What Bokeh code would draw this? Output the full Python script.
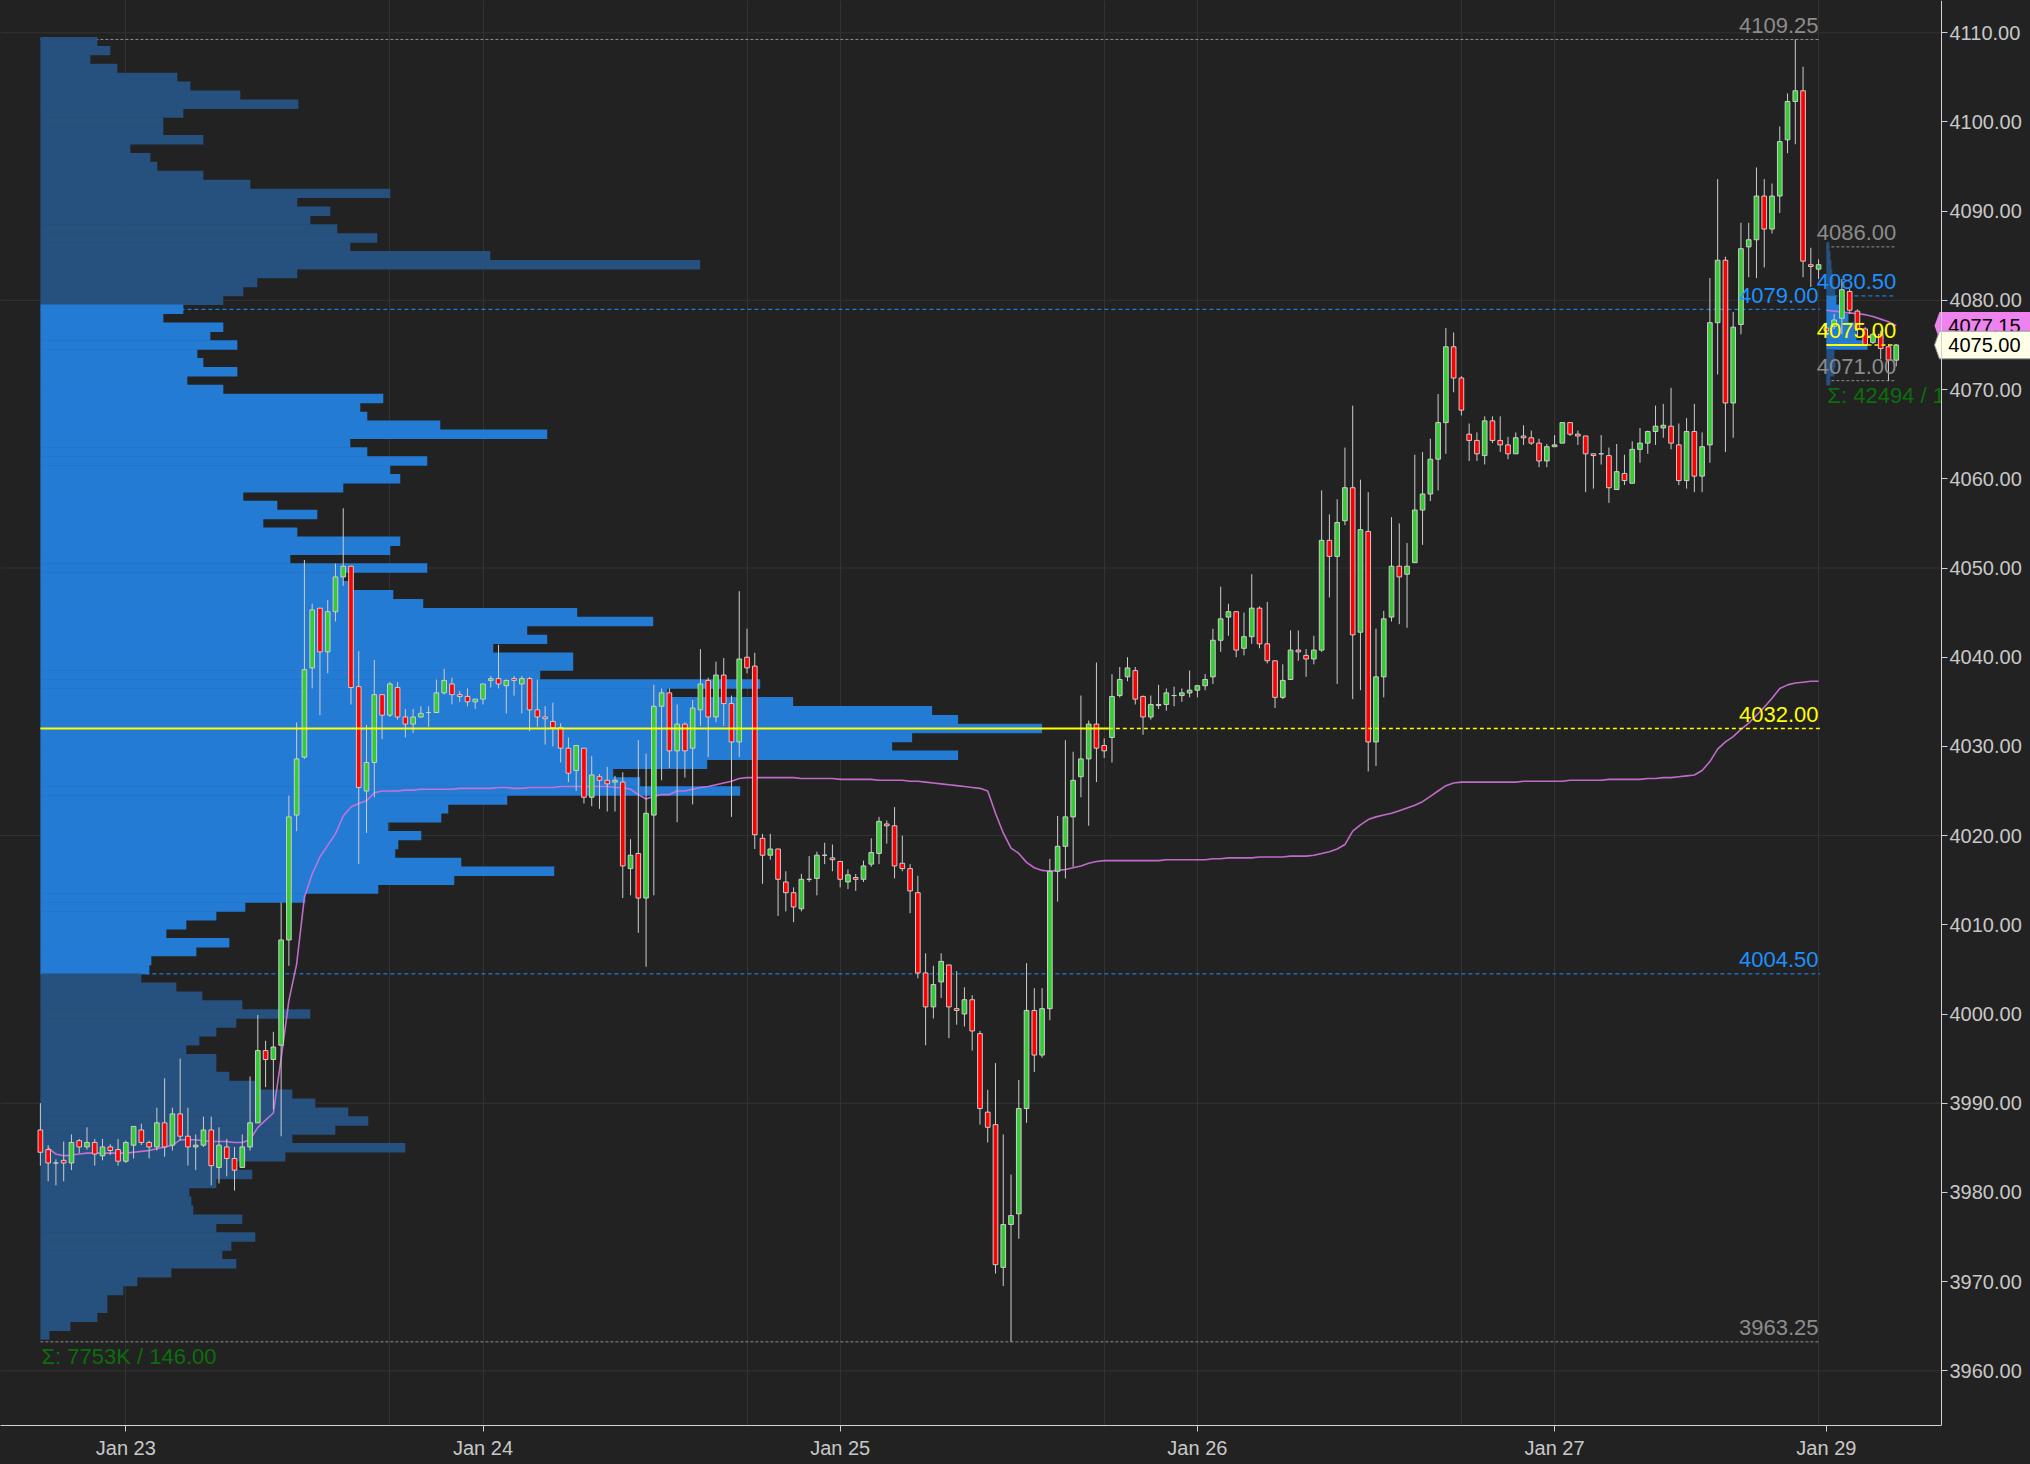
from bokeh.plotting import figure
from bokeh.models import FixedTicker, NumeralTickFormatter, Range1d
from bokeh.core.properties import value
from bokeh.embed import file_html
from bokeh.resources import INLINE

# ---------------- data (30-minute bars, index 0 = first bar of Jan 22 evening session) ----------------
opens = [
    3987.0, 3984.8, 3983.3, 3983.6, 3983.3, 3985.8, 3985.1, 3985.6, 3984.1, 3985.1,
    3984.8, 3983.5, 3985.3, 3987.0, 3985.6, 3985.1, 3987.8, 3985.3, 3988.8, 3986.3,
    3985.1, 3985.3, 3987.0, 3982.8, 3985.1, 3983.8, 3982.8, 3985.1, 3987.8, 3995.9,
    3994.9, 3996.5, 4008.3, 4022.3, 4028.8, 4038.8, 4045.5, 4040.6, 4045.1, 4049.0,
    4050.2, 4036.7, 4025.0, 4028.2, 4035.8, 4033.5, 4036.6, 4033.3, 4032.5, 4033.3,
    4033.8, 4033.8, 4036.0, 4037.0, 4035.8, 4035.6, 4035.0, 4035.3, 4037.4, 4037.6,
    4036.8, 4037.6, 4037.0, 4037.6, 4034.1, 4033.3, 4032.8, 4032.1, 4029.8, 4027.3,
    4029.8, 4024.3, 4026.6, 4026.2, 4026.0, 4026.0, 4016.3, 4018.0, 4013.0, 4022.3,
    4034.5, 4036.0, 4029.5, 4032.5, 4029.8, 4034.1, 4037.4, 4033.3, 4038.0, 4034.8,
    4030.5, 4040.0, 4039.0, 4019.7, 4017.8, 4018.5, 4014.8, 4013.6, 4011.8, 4015.1,
    4015.2, 4017.8, 4017.5, 4017.1, 4014.8, 4015.3, 4015.1, 4016.8, 4018.0, 4021.3,
    4021.1, 4016.9, 4016.3, 4013.6, 4004.6, 4000.8, 4003.6, 4005.5, 4000.6, 4000.0,
    4001.6, 3997.8, 3989.0, 3987.6, 3971.6, 3976.4, 3977.6, 3989.4, 4000.4, 3995.4,
    4000.6, 4016.0, 4018.8, 4022.1, 4026.6, 4028.6, 4032.5, 4030.1, 4031.0, 4035.7,
    4037.8, 4038.5, 4035.6, 4033.3, 4034.6, 4034.7, 4035.7, 4035.7, 4036.0, 4036.3,
    4036.8, 4037.8, 4041.9, 4044.5, 4045.1, 4041.0, 4042.3, 4045.5, 4041.5, 4039.6,
    4035.5, 4037.5, 4040.8, 4040.2, 4039.8, 4040.8, 4053.1, 4051.3, 4055.3, 4059.0,
    4042.8, 4054.1, 4030.5, 4037.8, 4044.5, 4050.2, 4049.3, 4050.6, 4056.5, 4058.3,
    4062.2, 4066.3, 4074.8, 4071.3, 4065.0, 4064.3, 4062.6, 4066.5, 4064.3, 4063.8,
    4062.8, 4064.8, 4064.6, 4064.0, 4062.0, 4063.6, 4064.0, 4066.3, 4065.0, 4064.8,
    4062.8, 4062.8, 4062.6, 4058.8, 4060.6, 4059.5, 4063.3, 4064.0, 4065.3, 4065.7,
    4065.9, 4063.8, 4059.8, 4065.3, 4060.3, 4063.8, 4077.5, 4084.5, 4068.5, 4077.3,
    4086.0, 4086.8, 4091.7, 4088.0, 4091.7, 4098.0, 4102.3, 4103.5, 4084.0, 4083.5,
    4076.9, 4077.1, 4078.0, 4081.0, 4078.8, 4076.8, 4075.3, 4076.2, 4074.8, 4073.3,
]
highs = [
    3990.0, 3985.3, 3983.7, 3985.7, 3986.5, 3986.0, 3987.3, 3986.0, 3986.0, 3985.4,
    3986.0, 3985.8, 3987.4, 3987.7, 3985.8, 3989.5, 3992.8, 3989.5, 3995.0, 3989.5,
    3986.5, 3988.5, 3988.5, 3987.3, 3986.0, 3985.1, 3986.5, 3993.0, 3999.9, 3997.0,
    3998.0, 4012.5, 4024.5, 4032.7, 4050.9, 4046.0, 4045.5, 4046.4, 4050.5, 4056.7,
    4050.2, 4040.7, 4032.4, 4039.7, 4035.8, 4037.2, 4037.2, 4034.2, 4034.2, 4034.5,
    4034.5, 4037.5, 4038.7, 4037.7, 4036.2, 4036.5, 4035.3, 4037.0, 4037.9, 4041.4,
    4037.5, 4037.9, 4037.9, 4037.8, 4037.5, 4034.5, 4034.9, 4032.6, 4031.0, 4030.1,
    4029.8, 4028.9, 4026.9, 4027.7, 4026.7, 4027.1, 4019.6, 4030.7, 4029.2, 4036.9,
    4036.5, 4036.5, 4034.7, 4032.7, 4035.2, 4040.9, 4037.7, 4039.5, 4039.9, 4035.7,
    4047.4, 4043.2, 4040.5, 4020.2, 4020.2, 4018.5, 4016.0, 4014.2, 4015.7, 4017.7,
    4018.2, 4019.2, 4019.0, 4017.1, 4016.2, 4015.7, 4017.2, 4019.7, 4022.1, 4021.7,
    4023.2, 4020.0, 4016.8, 4015.5, 4006.8, 4005.4, 4006.8, 4005.5, 4004.8, 4003.0,
    4002.1, 3998.1, 3991.5, 3994.5, 3986.5, 3982.0, 3992.6, 4005.7, 4002.9, 4002.9,
    4017.4, 4022.2, 4030.7, 4029.4, 4035.7, 4032.9, 4039.4, 4030.9, 4038.1, 4038.9,
    4040.0, 4038.9, 4035.7, 4035.7, 4036.9, 4036.5, 4036.7, 4036.5, 4038.5, 4036.9,
    4038.1, 4043.2, 4047.9, 4046.0, 4045.1, 4045.0, 4049.3, 4045.7, 4046.2, 4039.6,
    4039.2, 4043.0, 4043.0, 4040.9, 4042.4, 4058.7, 4056.0, 4057.7, 4063.5, 4068.2,
    4059.9, 4058.5, 4043.2, 4045.2, 4055.7, 4055.0, 4052.8, 4062.7, 4063.0, 4064.5,
    4069.5, 4076.9, 4076.4, 4071.5, 4066.2, 4065.2, 4067.0, 4067.0, 4067.0, 4064.7,
    4065.2, 4066.0, 4065.4, 4064.5, 4063.9, 4064.9, 4066.3, 4066.3, 4065.4, 4064.8,
    4062.8, 4064.9, 4063.5, 4063.9, 4062.7, 4064.2, 4065.7, 4065.4, 4068.2, 4068.4,
    4070.2, 4066.2, 4066.8, 4068.4, 4065.2, 4082.5, 4093.6, 4084.9, 4078.7, 4088.7,
    4088.7, 4094.9, 4093.6, 4093.1, 4099.5, 4103.2, 4109.25, 4106.2, 4085.9, 4084.6,
    4077.5, 4078.5, 4082.4, 4081.3, 4079.0, 4077.0, 4076.4, 4076.6, 4075.1, 4075.1,
]
lows = [
    3983.0, 3981.25, 3980.8, 3981.25, 3982.5, 3984.4, 3984.8, 3983.0, 3983.6, 3984.2,
    3983.0, 3983.3, 3983.8, 3985.3, 3983.8, 3984.7, 3984.0, 3984.7, 3985.8, 3983.0,
    3982.5, 3985.1, 3980.8, 3981.0, 3981.8, 3980.2, 3982.8, 3984.7, 3987.8, 3991.8,
    3989.3, 3986.3, 4005.4, 4020.5, 4028.6, 4036.5, 4033.5, 4038.2, 4044.0, 4048.0,
    4034.7, 4016.8, 4020.3, 4024.3, 4030.8, 4033.3, 4033.0, 4031.0, 4031.5, 4033.2,
    4032.2, 4033.8, 4035.8, 4034.7, 4035.0, 4034.5, 4034.2, 4034.7, 4036.6, 4036.5,
    4033.7, 4035.7, 4033.7, 4031.7, 4032.2, 4030.2, 4030.0, 4028.2, 4026.0, 4025.0,
    4023.6, 4023.3, 4023.0, 4022.7, 4022.7, 4013.0, 4013.3, 4009.1, 4005.3, 4013.3,
    4026.2, 4027.6, 4021.5, 4026.5, 4023.5, 4032.3, 4028.8, 4032.7, 4032.3, 4022.1,
    4028.8, 4038.2, 4018.5, 4014.6, 4017.3, 4011.0, 4011.5, 4010.3, 4011.5, 4014.8,
    4013.3, 4016.8, 4016.0, 4014.2, 4014.0, 4013.8, 4014.8, 4016.5, 4016.8, 4019.1,
    4015.2, 4016.0, 4011.3, 4004.0, 3996.5, 3999.5, 4001.8, 3997.3, 3998.8, 3998.6,
    3995.9, 3987.6, 3985.6, 3970.9, 3969.5, 3963.25, 3974.8, 3987.8, 3993.5, 3995.1,
    3999.3, 4012.6, 4015.2, 4016.5, 4024.3, 4021.1, 4026.0, 4028.7, 4028.2, 4035.5,
    4037.3, 4034.7, 4031.3, 4033.0, 4034.2, 4034.0, 4034.5, 4035.0, 4035.5, 4035.5,
    4036.3, 4037.0, 4040.6, 4042.4, 4040.0, 4040.2, 4041.5, 4041.0, 4039.3, 4034.3,
    4035.3, 4037.5, 4039.6, 4037.8, 4039.2, 4040.6, 4046.7, 4037.0, 4054.8, 4035.3,
    4036.3, 4027.2, 4027.8, 4035.5, 4044.0, 4043.7, 4043.3, 4050.6, 4052.6, 4057.5,
    4058.7, 4062.8, 4069.7, 4067.1, 4062.0, 4062.0, 4061.6, 4064.0, 4063.0, 4062.2,
    4062.8, 4063.8, 4063.8, 4061.3, 4061.3, 4063.6, 4064.0, 4064.8, 4063.8, 4058.5,
    4058.9, 4061.6, 4057.3, 4058.8, 4059.3, 4059.5, 4061.8, 4062.8, 4063.8, 4064.6,
    4063.3, 4059.3, 4058.9, 4058.5, 4058.5, 4061.8, 4071.7, 4063.0, 4064.6, 4076.2,
    4082.6, 4082.5, 4083.7, 4087.5, 4089.8, 4096.5, 4097.5, 4082.6, 4081.5, 4082.4,
    4076.3, 4076.8, 4076.2, 4078.5, 4075.9, 4075.0, 4075.1, 4073.4, 4071.0, 4072.6,
]
closes = [
    3984.5, 3983.3, 3983.3, 3983.3, 3985.6, 3985.1, 3985.6, 3984.3, 3985.1, 3984.7,
    3983.5, 3985.6, 3987.4, 3985.6, 3985.1, 3987.8, 3985.1, 3988.8, 3986.3, 3985.1,
    3985.3, 3987.0, 3983.0, 3985.3, 3983.8, 3982.5, 3985.1, 3987.8, 3995.9, 3994.9,
    3996.3, 4008.3, 4022.1, 4028.6, 4038.6, 4045.3, 4040.6, 4045.1, 4049.0, 4050.2,
    4036.6, 4025.4, 4028.2, 4035.8, 4033.5, 4037.0, 4033.3, 4032.5, 4033.3, 4033.7,
    4033.8, 4036.0, 4037.4, 4035.8, 4035.6, 4035.0, 4035.3, 4037.0, 4037.6, 4037.0,
    4037.4, 4037.4, 4037.6, 4034.1, 4033.3, 4033.1, 4032.1, 4029.8, 4027.0, 4030.1,
    4024.3, 4026.8, 4026.2, 4025.8, 4026.2, 4016.6, 4017.8, 4013.0, 4022.5, 4034.5,
    4036.0, 4029.5, 4032.5, 4029.5, 4034.3, 4037.0, 4033.3, 4038.0, 4034.8, 4030.5,
    4039.8, 4038.8, 4020.1, 4017.8, 4018.5, 4015.1, 4013.6, 4012.0, 4015.1, 4015.1,
    4017.8, 4017.8, 4017.3, 4015.1, 4015.6, 4015.1, 4016.6, 4018.1, 4021.6, 4021.1,
    4016.6, 4016.3, 4013.8, 4004.6, 4000.8, 4003.3, 4005.9, 4000.8, 4000.4, 4001.6,
    3998.1, 3989.4, 3987.3, 3971.9, 3976.4, 3977.4, 3989.4, 4000.4, 3995.4, 4000.6,
    4016.0, 4018.8, 4022.1, 4026.2, 4028.6, 4032.5, 4029.8, 4029.5, 4035.6, 4037.5,
    4038.8, 4035.3, 4033.3, 4034.7, 4034.7, 4036.0, 4035.7, 4036.0, 4036.3, 4036.8,
    4037.5, 4041.9, 4044.3, 4045.1, 4040.8, 4042.3, 4045.5, 4041.5, 4039.6, 4035.5,
    4037.4, 4040.8, 4040.6, 4039.8, 4040.8, 4053.1, 4051.3, 4055.1, 4059.0, 4042.5,
    4054.3, 4030.5, 4037.8, 4044.3, 4050.2, 4049.0, 4050.2, 4056.5, 4058.3, 4062.2,
    4066.3, 4074.8, 4071.3, 4067.7, 4064.3, 4062.8, 4066.5, 4064.3, 4063.8, 4062.8,
    4064.6, 4064.6, 4064.0, 4062.0, 4063.6, 4063.8, 4066.3, 4065.0, 4064.8, 4062.8,
    4062.6, 4062.8, 4059.0, 4060.8, 4059.8, 4063.3, 4064.0, 4065.3, 4065.9, 4066.0,
    4064.0, 4059.8, 4065.3, 4060.3, 4063.6, 4077.5, 4084.5, 4068.5, 4077.0, 4085.8,
    4086.8, 4091.7, 4088.0, 4091.7, 4097.8, 4102.3, 4103.5, 4084.4, 4083.8, 4084.0,
    4076.6, 4077.8, 4081.2, 4078.9, 4076.8, 4075.0, 4076.2, 4074.6, 4073.3, 4075.0,
]

# weekly VWAP, bars 1..229
vwap_week = [
    3985.0, 3984.3, 3984.1, 3984.2, 3984.3, 3984.4, 3984.4, 3984.4, 3984.4, 3984.4,
    3984.4, 3984.5, 3984.6, 3984.7, 3984.9, 3985.1, 3985.3, 3985.9, 3985.9, 3985.9,
    3985.8, 3985.7, 3985.7, 3985.7, 3985.6, 3985.6, 3985.9, 3987.3, 3988.1, 3988.9,
    3995.0, 4001.5, 4005.6, 4013.1, 4015.7, 4017.6, 4018.9, 4020.2, 4022.2, 4023.2,
    4023.6, 4023.9, 4024.8, 4025.0, 4025.0, 4025.0, 4025.1, 4025.1, 4025.2, 4025.2,
    4025.2, 4025.2, 4025.2, 4025.3, 4025.3, 4025.3, 4025.3, 4025.3, 4025.4, 4025.4,
    4025.3, 4025.3, 4025.4, 4025.4, 4025.4, 4025.4, 4025.5, 4025.5, 4025.5, 4025.5,
    4025.5, 4025.5, 4025.5, 4025.4, 4025.4, 4025.2, 4024.6, 4024.1, 4024.4, 4024.6,
    4024.6, 4025.0, 4025.0, 4025.2, 4025.4, 4025.5, 4025.7, 4025.9, 4026.1, 4026.4,
    4026.5, 4026.5, 4026.5, 4026.5, 4026.5, 4026.5, 4026.5, 4026.4, 4026.4, 4026.4,
    4026.4, 4026.4, 4026.3, 4026.3, 4026.3, 4026.3, 4026.3, 4026.2, 4026.2, 4026.2,
    4026.2, 4026.1, 4026.1, 4026.0, 4025.9, 4025.8, 4025.7, 4025.6, 4025.5, 4025.4,
    4025.3, 4025.0, 4022.5, 4020.3, 4018.6, 4018.0, 4017.0, 4016.4, 4016.1, 4016.0,
    4016.1, 4016.2, 4016.4, 4016.6, 4016.9, 4017.1, 4017.2, 4017.2, 4017.2, 4017.2,
    4017.2, 4017.2, 4017.2, 4017.2, 4017.3, 4017.3, 4017.3, 4017.3, 4017.3, 4017.3,
    4017.4, 4017.4, 4017.5, 4017.5, 4017.5, 4017.5, 4017.6, 4017.6, 4017.6, 4017.6,
    4017.7, 4017.7, 4017.7, 4017.8, 4018.0, 4018.2, 4018.5, 4019.0, 4020.5, 4021.2,
    4021.8, 4022.1, 4022.3, 4022.5, 4022.8, 4023.1, 4023.4, 4023.8, 4024.4, 4025.0,
    4025.6, 4025.9, 4026.0, 4026.0, 4026.0, 4026.0, 4026.0, 4026.0, 4026.0, 4026.0,
    4026.1, 4026.1, 4026.1, 4026.1, 4026.1, 4026.1, 4026.2, 4026.2, 4026.2, 4026.2,
    4026.2, 4026.3, 4026.3, 4026.3, 4026.3, 4026.3, 4026.4, 4026.4, 4026.5, 4026.5,
    4026.6, 4026.7, 4026.8, 4027.3, 4028.3, 4029.7, 4030.5, 4031.1, 4031.9, 4032.6,
    4033.5, 4034.4, 4035.4, 4036.5, 4036.9, 4037.1, 4037.2, 4037.3, 4037.3,
]
vwap_week_start = 1
# Sunday-session VWAP, bars 230..239
vwap_sun = [4078.9, 4078.8, 4078.7, 4078.6, 4078.5, 4078.4, 4078.2, 4077.9, 4077.6, 4077.15]
vwap_sun_start = 230

# weekly volume profile (relative volume per 1-point level, from 4109 down to 3964)
profile_top = 4109
profile_vol = [
    57, 70, 50, 77, 137, 150, 200, 258, 143, 123,
    123, 163, 90, 110, 117, 163, 210, 350, 257, 290,
    270, 297, 337, 310, 450, 660, 257, 217, 203, 183,
    143, 123, 183, 170, 197, 157, 163, 197, 147, 183,
    343, 320, 327, 400, 507, 310, 327, 387, 350, 360,
    303, 203, 237, 277, 223, 257, 360, 350, 250, 387,
    303, 310, 353, 383, 537, 613, 487, 507, 453, 533,
    533, 500, 720, 627, 753, 892, 918, 1002, 872, 852,
    918, 667, 573, 600, 700, 467, 408, 401, 348, 381,
    358, 355, 421, 514, 414, 338, 265, 205, 176, 146,
    126, 189, 156, 111, 109, 101, 136, 162, 202, 270,
    196, 176, 159, 146, 176, 176, 189, 215, 252, 275,
    308, 328, 295, 252, 365, 245, 196, 212, 176, 149,
    151, 153, 202, 176, 215, 191, 182, 196, 131, 97,
    83, 67, 67, 57, 30, 9,
]
# Sunday-session volume profile, from 4086 down to 4071
sun_profile_top = 4086
sun_profile_vol = [3, 4, 5, 6, 7, 9, 10, 15, 22, 28, 30, 41, 8, 9, 8, 4]

week_high, week_low = 4109.25, 3963.25
week_vah, week_poc, week_val = 4079.00, 4032.00, 4004.50
week_total = "7753K"
sun_high, sun_low = 4086.00, 4071.00
sun_vah, sun_poc, sun_val = 4080.50, 4075.00, 4075.00
sun_total = "42494"
last_price = 4075.00
last_vwap = 4077.15

date_ticks = [11, 57, 103, 149, 195, 230]
date_labels = ["Jan 23", "Jan 24", "Jan 25", "Jan 26", "Jan 27", "Jan 29"]
session_grid = [11, 45, 57, 91, 103, 137, 149, 183, 195, 229]
price_ticks = [3960, 3970, 3980, 3990, 4000, 4010, 4020, 4030, 4040, 4050,
               4060, 4070, 4080, 4090, 4100, 4110]
price_grid = [3960, 3990, 4020, 4050, 4080, 4110]

# ---------------- styling / layout constants ----------------
BG = "#222222"
GRID = "#333333"
AXIS = "#d2d2d2"
FONT = "Liberation Sans"
UP, DOWN, EDGE = "#33cc33", "#ff0000", "#cccccc"
VA_COL, OUT_COL = "#237bd4", "#26517e"
BLUE, YELLOW, GRAY, GREEN, VWAP_COL = "#1e90ff", "#ffff00", "#8c8c8c", "#0b6e0b", "#d273dc"

X0, X1 = -5.138, 256.29      # bar-index range across the whole canvas width
AXIS_X = 244.83              # where the price scale sits
week_start, week_end = 0.0, 229.2
sun_start, sun_end = 230.0, 239.0
week_poc_len = 129.0         # bar units of the widest level
sun_poc_len = 5.3
week_poc_solid_end = 137.6
sun_poc_solid_end = 235.3
LABEL_SHIFT = -14            # text y_offset (px) that puts a level label just above its line
SIGMA_SHIFT = 2

p = figure(width=2030, height=1462,
           x_range=Range1d(X0, X1), y_range=Range1d(3953.87, 4113.62),
           output_backend="svg", toolbar_location=None, y_axis_location="right",
           min_border_left=0, min_border_top=0, min_border_right=0, min_border_bottom=37,
           background_fill_color=BG, border_fill_color=BG, outline_line_color=None)

# grids
p.xgrid.ticker = FixedTicker(ticks=session_grid)
p.xgrid.grid_line_color = GRID
p.ygrid.grid_line_color = None
p.segment(x0=[X0] * len(price_grid), x1=[AXIS_X] * len(price_grid),
          y0=price_grid, y1=price_grid, line_color=GRID, line_width=1)

# axes
xa = p.xaxis[0]
xa.ticker = FixedTicker(ticks=date_ticks)
xa.major_label_overrides = {t: l for t, l in zip(date_ticks, date_labels)}
xa.bounds = (X0, AXIS_X)
ya = p.yaxis[0]
ya.ticker = FixedTicker(ticks=price_ticks)
ya.formatter = NumeralTickFormatter(format="0.00")
ya.fixed_location = AXIS_X
for ax in (xa, ya):
    ax.axis_line_color = AXIS
    ax.major_tick_line_color = AXIS
    ax.minor_tick_line_color = None
    ax.major_tick_out = 6
    ax.major_tick_in = 0
    ax.major_label_text_color = "#c8c8c8"
    ax.major_label_text_font = FONT
    ax.major_label_text_font_size = "20px"
ya.major_label_standoff = 2
xa.major_label_standoff = 5

# session range / value area lines (drawn under the profile)
for y0, col, dash in [(week_high, GRAY, "3 2"), (week_low, GRAY, "3 2"),
                      (week_vah, BLUE, "4 3"), (week_val, BLUE, "4 3")]:
    p.line([week_start, week_end], [y0, y0], line_color=col, line_dash=dash, line_width=1)
for y0, col, dash in [(sun_high, GRAY, "3 2"), (sun_low, GRAY, "3 2"), (sun_vah, BLUE, "4 3")]:
    p.line([sun_start, sun_end], [y0, y0], line_color=col, line_dash=dash, line_width=1)

# weekly volume profile
levels = [profile_top - k for k in range(len(profile_vol))]
wscale = week_poc_len / max(profile_vol)
p.hbar(y=levels, left=week_start, right=[week_start + v * wscale for v in profile_vol],
       height=1.06, line_color=None,
       fill_color=[VA_COL if (week_val < lv <= week_vah) else OUT_COL for lv in levels])

# Sunday volume profile
s_levels = [sun_profile_top - k for k in range(len(sun_profile_vol))]
sscale = sun_poc_len / max(sun_profile_vol)
p.hbar(y=s_levels, left=sun_start, right=[sun_start + v * sscale for v in sun_profile_vol],
       height=1.06, line_color=None,
       fill_color=[VA_COL if (sun_val <= lv <= sun_vah) else OUT_COL for lv in s_levels])

# VWAP lines
p.line(list(range(vwap_week_start, vwap_week_start + len(vwap_week))), vwap_week,
       line_color=VWAP_COL, line_width=1.6, line_alpha=0.9)
p.line(list(range(vwap_sun_start, vwap_sun_start + len(vwap_sun))), vwap_sun,
       line_color=VWAP_COL, line_width=1.6, line_alpha=0.9)

# candles
idx = list(range(len(opens)))
p.segment(x0=idx, y0=lows, x1=idx, y1=highs, line_color=EDGE, line_width=1)
p.vbar(x=idx, width=0.6,
       top=[max(o, c) for o, c in zip(opens, closes)],
       bottom=[min(o, c) for o, c in zip(opens, closes)],
       fill_color=[UP if c > o else (DOWN if c < o else EDGE) for o, c in zip(opens, closes)],
       line_color=EDGE, line_width=1)

# POC lines
p.line([week_start, week_poc_solid_end], [week_poc, week_poc], line_color=YELLOW, line_width=2)
p.line([week_poc_solid_end, week_end], [week_poc, week_poc], line_color=YELLOW, line_width=1.5,
       line_dash="4 3")
p.line([sun_start, sun_poc_solid_end], [sun_poc, sun_poc], line_color=YELLOW, line_width=2)
p.line([sun_poc_solid_end, sun_end], [sun_poc, sun_poc], line_color=YELLOW, line_width=1.5,
       line_dash="4 3")

# level labels
wk_vals = [week_high, week_vah, week_poc, week_val, week_low]
wk_cols = [GRAY, BLUE, YELLOW, BLUE, GRAY]
p.text(x=[week_end - 0.2] * len(wk_vals), y=wk_vals, text=[f"{v:.2f}" for v in wk_vals],
       text_color=wk_cols, text_align="right", text_baseline="alphabetic", y_offset=LABEL_SHIFT,
       text_font=value(FONT), text_font_size="22px")
sn_vals = [sun_high, sun_vah, sun_poc, sun_low]
sn_cols = [GRAY, BLUE, YELLOW, GRAY]
p.text(x=[sun_end] * len(sn_vals), y=sn_vals, text=[f"{v:.2f}" for v in sn_vals],
       text_color=sn_cols, text_align="right", text_baseline="alphabetic", y_offset=LABEL_SHIFT,
       text_font=value(FONT), text_font_size="22px")
p.text(x=[week_start, sun_start], y=[week_low, sun_low],
       text=[f"\u03a3: {week_total} / {week_high - week_low:.2f}",
             f"\u03a3: {sun_total} / {sun_high - sun_low:.2f}"],
       text_color=GREEN, text_align="left", text_baseline="top", x_offset=1, y_offset=SIGMA_SHIFT,
       text_font=value(FONT), text_font_size="22px")

# price-scale area: hide anything running past the scale
p.quad(left=[AXIS_X], right=[X1 + 5], bottom=[3940], top=[4130], fill_color=BG, line_color=None)

# price tags on the price scale
TAG_H = 1.55
TIP, BOX = 243.93, 244.57
for yv, fill, edge in [(last_vwap, "#ee82ee", None), (last_price, "#ffffe8", "#9a9a9a")]:
    p.patch([TIP, BOX, X1 + 5, X1 + 5, BOX], [yv, yv + TAG_H, yv + TAG_H, yv - TAG_H, yv - TAG_H],
            fill_color=fill, line_color=edge, line_width=1)
    p.text(x=[245.7], y=[yv], text=[f"{yv:.2f}"], text_color="#000000",
           text_align="left", text_baseline="middle",
           text_font=value(FONT), text_font_size="20px")

html = file_html(p, INLINE, title="Volume profile")
html = html.replace("<head>", "<head><style>html, body {background-color: #222222;}</style>", 1)
open("out.html", "w").write(html)
